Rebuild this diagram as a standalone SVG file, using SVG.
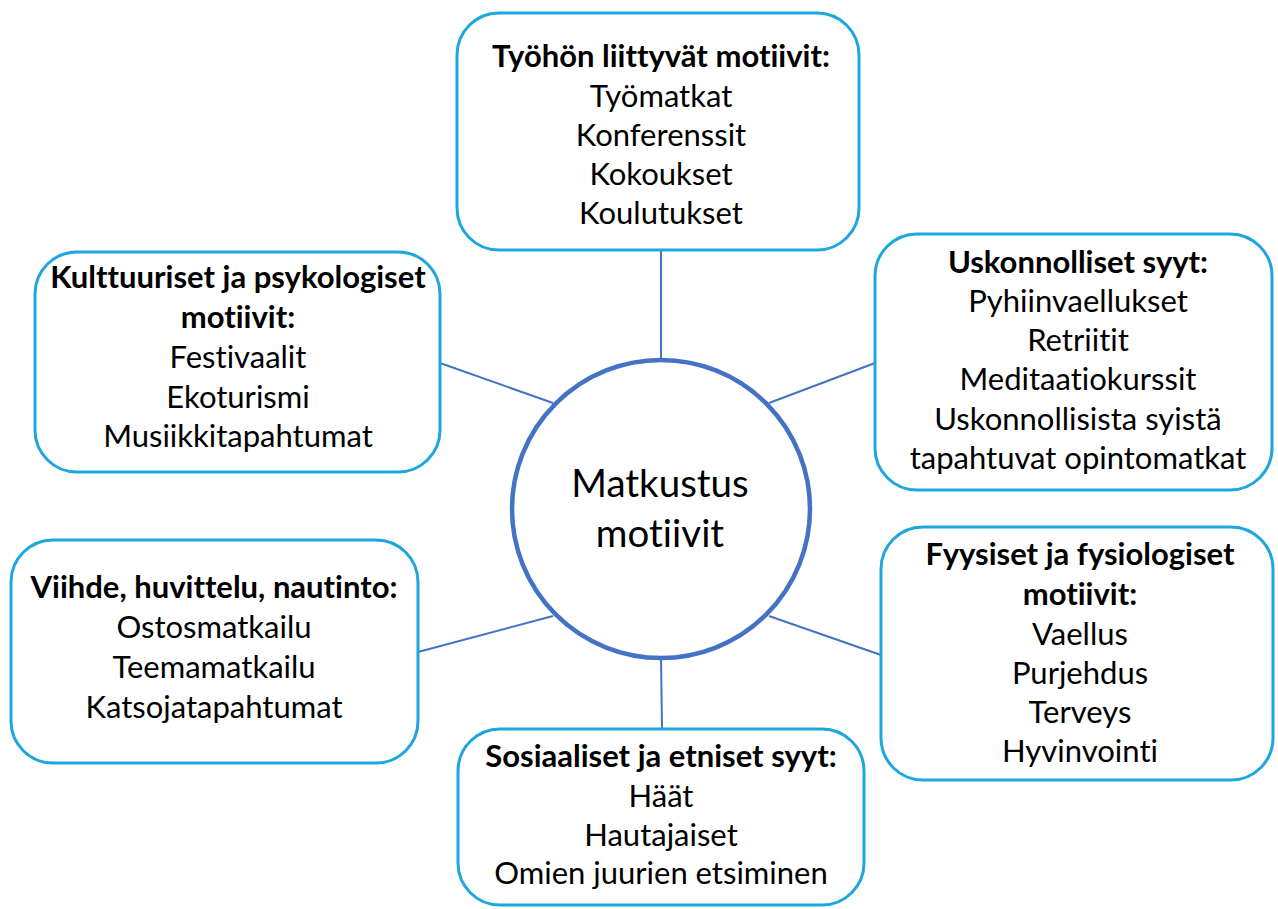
<svg xmlns="http://www.w3.org/2000/svg" width="1278" height="909" viewBox="0 0 1278 909">
<style>
.box{fill:#ffffff;stroke:#1EA6DF;stroke-width:3}
.t{font-family:Lato,"Liberation Sans",sans-serif;font-size:31px;fill:#000;text-anchor:middle;font-variant-ligatures:none;font-feature-settings:"liga" 0}
.b{font-weight:bold}
.conn line{stroke:#4472C4;stroke-width:2}
.hub{fill:#ffffff;stroke:#4472C4;stroke-width:4.5}
.ht{font-family:Lato,"Liberation Sans",sans-serif;font-size:38.5px;fill:#000;text-anchor:middle;font-variant-ligatures:none;font-feature-settings:"liga" 0}
</style>
<rect width="1278" height="909" fill="#ffffff"/>
<g id="connectors" class="conn">
<line x1="661" y1="250" x2="661" y2="360"/>
<line x1="440" y1="363" x2="553" y2="403"/>
<line x1="875" y1="363" x2="769" y2="403"/>
<line x1="418" y1="652" x2="553" y2="616"/>
<line x1="881" y1="655" x2="769" y2="616"/>
<line x1="661" y1="658" x2="662" y2="729"/>
</g>
<g id="hub">
<circle class="hub" cx="661" cy="509" r="149"/>
<text class="ht" x="660" y="497">Matkustus</text>
<text class="ht" x="660" y="547">motiivit</text>
</g>
<g id="tyo">
<rect class="box" x="457" y="13" width="402" height="237" rx="42"/>
<text class="t b" x="661" y="67">Työhön liittyvät motiivit:</text>
<text class="t" x="661" y="107">Työmatkat</text>
<text class="t" x="661" y="146">Konferenssit</text>
<text class="t" x="661" y="185">Kokoukset</text>
<text class="t" x="661" y="224">Koulutukset</text>
</g>
<g id="uskonnolliset">
<rect class="box" x="875" y="234" width="397" height="256" rx="42"/>
<text class="t b" x="1078" y="273">Uskonnolliset syyt:</text>
<text class="t" x="1078" y="312">Pyhiinvaellukset</text>
<text class="t" x="1078" y="351">Retriitit</text>
<text class="t" x="1078" y="390">Meditaatiokurssit</text>
<text class="t" x="1078" y="430">Uskonnollisista syistä</text>
<text class="t" x="1078" y="469">tapahtuvat opintomatkat</text>
</g>
<g id="kulttuuriset">
<rect class="box" x="35" y="252" width="405" height="220" rx="42"/>
<text class="t b" x="238" y="288">Kulttuuriset ja psykologiset</text>
<text class="t b" x="238" y="328">motiivit:</text>
<text class="t" x="238" y="368">Festivaalit</text>
<text class="t" x="238" y="408">Ekoturismi</text>
<text class="t" x="238" y="447">Musiikkitapahtumat</text>
</g>
<g id="viihde">
<rect class="box" x="11" y="540" width="407" height="223" rx="42"/>
<text class="t b" x="214" y="598">Viihde, huvittelu, nautinto:</text>
<text class="t" x="214" y="638">Ostosmatkailu</text>
<text class="t" x="214" y="678">Teemamatkailu</text>
<text class="t" x="214" y="718">Katsojatapahtumat</text>
</g>
<g id="fyysiset">
<rect class="box" x="881" y="527" width="392" height="253" rx="42"/>
<text class="t b" x="1080" y="565">Fyysiset ja fysiologiset</text>
<text class="t b" x="1080" y="605">motiivit:</text>
<text class="t" x="1080" y="645">Vaellus</text>
<text class="t" x="1080" y="684">Purjehdus</text>
<text class="t" x="1080" y="723">Terveys</text>
<text class="t" x="1080" y="762">Hyvinvointi</text>
</g>
<g id="sosiaaliset">
<rect class="box" x="458" y="729" width="406" height="176" rx="42"/>
<text class="t b" x="661" y="767">Sosiaaliset ja etniset syyt:</text>
<text class="t" x="661" y="807">Häät</text>
<text class="t" x="661" y="846">Hautajaiset</text>
<text class="t" x="661" y="884">Omien juurien etsiminen</text>
</g>
</svg>
